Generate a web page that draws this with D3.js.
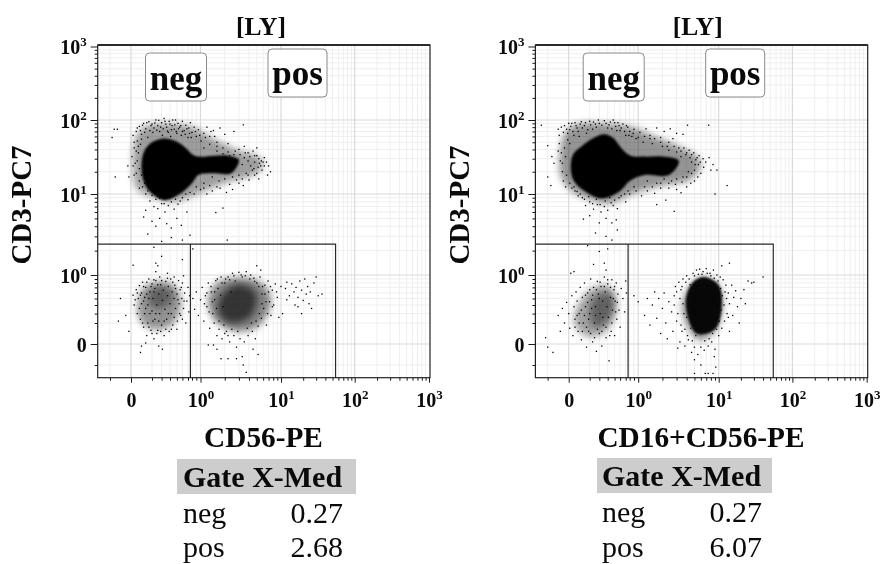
<!DOCTYPE html>
<html><head><meta charset="utf-8">
<script src="https://cdnjs.cloudflare.com/ajax/libs/d3/7.8.5/d3.min.js"></script>
<style>html,body{margin:0;background:#fff}svg{display:block;filter:blur(.35px)}text{font-family:"Liberation Serif",serif;fill:#0a0a0a}</style>
</head><body><svg id="c" width="881" height="564"><defs>
<filter id="soft" x="-30%" y="-30%" width="160%" height="160%"><feGaussianBlur stdDeviation="3.5"/></filter>
<filter id="edge" x="-20%" y="-20%" width="140%" height="140%"><feGaussianBlur stdDeviation="1.3"/></filter>
</defs></svg>
<script>
// Axis definitions
const majorX=[0,1,10,100,1000], majorY=[0,1,10,100,1000];
const minorLow=[-0.2,0.2,0.3,0.4,0.5,0.6,0.7,0.8,0.9];
const minorHigh=[2,3,4,5,6,7,8,9,20,30,40,50,60,70,80,90,200,300,400,500,600,700,800,900];
const gate={split:0.76,right:55,top:2.4};
const titles=["[LY]","[LY]"], xLabels=["CD56-PE","CD16+CD56-PE"], yLabel="CD3-PC7";
const gateNames=["neg","pos"];
const medians=[["0.27","2.68"],["0.27","6.07"]];

// Dense regions outlined from the picture (x value, y value)
const coreUpperA=[[.1,25],[.13,39],[.2,50],[.31,56],[.48,52],[.66,42],[.82,34],[.95,32],[1.5,33],[2.2,33],[3,29],[2.4,19],[1.5,19],[.95,18],[.8,14],[.55,10],[.33,8.4],[.18,10.7],[.12,15]];
const midUpperA=[[.02,21],[.04,55],[.12,80],[.33,88],[.8,80],[1.5,55],[3.1,38],[5.5,31],[6,25],[5,19],[2,14],[.9,10],[.45,8],[.18,9.4],[.05,12]];
const midLowLeftA=[[.07,.5],[.11,.68],[.22,.82],[.4,.8],[.55,.6],[.55,.32],[.4,.17],[.2,.14],[.08,.24]];
const coreLowLeftA=[[.17,.58],[.27,.72],[.4,.66],[.42,.45],[.27,.36],[.18,.42]];
const midLowRightA=[[1.25,.5],[1.6,.8],[3,.93],[5.2,.85],[7.2,.6],[7.2,.35],[5,.16],[2.7,.12],[1.45,.24]];
const coreLowRightA=[[1.75,.5],[2.6,.75],[4.1,.7],[5,.55],[4.2,.27],[2.3,.2],[1.7,.3]];
const coreUpperB=[[.02,22],[.04,34],[.12,44],[.25,58],[.36,64],[.48,57],[.62,42],[.82,33],[1.2,32],[2,32],[3.2,28],[2.4,18],[1.2,18],[.8,15],[.6,11],[.33,8.8],[.15,11],[.05,15]];
const midUpperB=[[-.08,18],[-.05,60],[.05,85],[.35,90],[.85,80],[1.6,60],[3.2,44],[5.6,31],[6,24],[4.6,16],[2,13],[.85,10],[.42,7.6],[.12,9.4],[0,12]];
const midLowLeftB=[[.05,.27],[.12,.48],[.22,.68],[.4,.75],[.5,.6],[.5,.27],[.35,.1],[.18,.07],[.08,.14]];
const coreLowLeftB=[[.2,.3],[.25,.52],[.42,.6],[.5,.42],[.4,.22],[.25,.16]];
const midLowRightB=[[3.5,.4],[4.2,.68],[5.7,.92],[9,.84],[11,.6],[11,.3],[8.5,.1],[5.5,.04],[4,.18]];
const coreLowRightB=[[3.9,.42],[4.6,.78],[6.5,.95],[10,.75],[11,.38],[9,.14],[5.3,.1]];

// Individual events [x,y]
const upperA=[[.05,70],[.08,82],[.1,64],[.12,90],[.14,76],[.16,58],[.17,95],[.19,84],[.21,68],[.23,91],[.25,73],[.27,99],[.29,80],[.31,62],[.33,105],[.35,88],[.37,71],[.39,96],[.41,60],[.43,84],[.46,75],[.48,100],[.5,66],[.52,90],[.55,80],[.58,62],[.6,96],[.63,72],[.66,85],[.7,58],[.72,78],[.76,92],[.8,68],[.85,80],[.9,60],[.95,74],[1.02,52],[1.1,66],[1.2,80],[1.3,60],[1.45,72],[1.6,50],[1.75,78],[2,64],[2.2,48],[2.6,70],[3.4,86],[-.16,75],[-.13,75],[-.18,58],[.02,62],[.06,52],[.09,47],[.03,42],[.07,36],[.01,32],[.04,26],[-.03,24],[.05,19],[.08,15],[-.02,17],[-.15,17],[.11,12.5],[.14,10],[.18,8.2],[.22,7],[.26,6.6],[.3,7.6],[.34,6],[.38,7.2],[.42,8],[.46,6.5],[.52,7.5],[.6,9],[.7,8.5],[.85,10],[1,11.5],[1.2,10],[1.4,11],[1.75,12],[2.1,10.5],[2.5,11.5],[3,14],[3.4,13],[4,15.5],[4.7,18],[5.3,16],[5.8,21],[6.2,24],[6.6,27],[6.2,31],[5.7,28],[7,24],[7.4,20],[6.8,18],[5,33],[4.5,38],[3.9,36],[5,42],[3.5,44],[3,40],[2.6,34],[2.2,37],[1.9,42],[1.6,38],[4.2,24],[4.7,27],[5.2,23],[4.4,21],[3.7,19],[3.3,25],[3.9,28],[3.5,31],[5.4,26],[3,18],[2.5,17],[2,16],[1.7,15],[1.4,17],[1.1,14],[.2,4.6],[.24,4],[.28,5],[.14,6.3],[.12,5.2],[.16,3.2],[.36,4.3],[.42,3.8],[.5,5],[.58,4.1],[.68,6],[.3,2.6],[.22,2.2],[.42,2.9],[.6,2.7],[.75,3.1],[1.55,5.9],[1.9,6.7],[.82,2.1],[2.15,2.7],[.3,1.7],[.24,1.4],[.6,1.55]];
const moreUpperA=[[.06,78],[.09,72],[.11,85],[.13,68],[.15,92],[.18,72],[.2,88],[.22,78],[.24,100],[.26,84],[.28,70],[.3,92],[.32,76],[.34,96],[.36,80],[.38,68],[.4,88],[.42,74],[.44,100],[.47,86],[.49,70],[.53,76],[.57,84],[.6,70],[.65,64],[.68,76],[.74,66],[.78,58],[.88,70],[.98,62],[1.15,58],[1.35,70],[1.5,60],[.03,50],[.05,38],[.02,24],[.06,28],[.08,22],[.03,18],[.07,44],[.1,55],[.08,12],[.1,18],[.13,14],[.16,11],[.2,9.6],[.24,8.6],[.28,8.9],[.33,7.6],[.4,9.2],[.48,8.6],[.56,8.2],[.66,10],[.75,10.5],[.9,12.5],[1.1,12],[1.3,13],[1.6,12.5],[2.3,13.5],[2.8,15.5],[3.3,16],[3.9,18],[4.6,22],[5,19],[5.6,24],[6,27],[5.3,30],[4.7,33],[4.1,32],[3.6,36],[3.1,34],[2.7,38],[2.3,33],[1.9,35],[1.6,44],[1.3,47],[1.1,42]];
const lowLeftA=[[.02,.56],[.03,.4],[.05,.66],[.06,.3],[.07,.5],[.08,.74],[.09,.24],[.1,.42],[.1,.6],[.11,.82],[.12,.16],[.13,.3],[.13,.52],[.14,.7],[.15,.08],[.16,.2],[.16,.4],[.17,.9],[.18,.62],[.19,.13],[.2,.33],[.2,.78],[.21,.5],[.22,.05],[.23,.24],[.23,.68],[.24,.86],[.25,.4],[.26,.13],[.27,.58],[.28,.3],[.28,.95],[.29,.76],[.3,.18],[.31,.47],[.32,.65],[.33,.08],[.34,.35],[.35,.84],[.36,.24],[.37,.55],[.38,.72],[.39,.12],[.4,.42],[.41,.9],[.42,.3],[.43,.62],[.44,.18],[.46,.5],[.47,.75],[.48,.36],[.5,.58],[.51,.22],[.53,.86],[.54,.42],[.56,.66],[.57,.28],[.59,.5],[.6,.8],[.62,.36],[.64,.6],[.66,.2],[.68,.46],[.7,.7],[.72,.32],[.74,.55],[-.1,.5],[-.12,.22],[-.05,.28],[-.02,.12],[.09,-.08],[.1,-.02],[.14,.01],[.27,-.02],[.31,-.05],[.24,1.1],[.26,1.3],[.02,1.32],[.37,1.05],[.46,.95],[.62,.98]];
const moreLowLeftA=[[.04,.48],[.06,.6],[.08,.36],[.09,.56],[.11,.2],[.12,.46],[.12,.72],[.14,.36],[.15,.58],[.15,.82],[.17,.16],[.17,.5],[.18,.3],[.19,.72],[.2,.1],[.21,.22],[.22,.62],[.22,.88],[.24,.3],[.25,.1],[.26,.76],[.27,.22],[.29,.12],[.3,.86],[.33,.22],[.35,.14],[.37,.92],[.38,.3],[.42,.14],[.44,.82],[.46,.26],[.48,.68],[.5,.14],[.52,.48],[.55,.3],[.58,.7],[.6,.24],[.63,.46]];
const lowRightA=[[.82,.5],[.86,.35],[.9,.62],[.95,.28],[1,.48],[1.05,.7],[1.1,.22],[1.15,.55],[1.2,.38],[1.25,.8],[1.3,.15],[1.36,.62],[1.42,.3],[1.5,.48],[1.55,.86],[1.6,.08],[1.65,.68],[1.7,.22],[1.8,.95],[1.85,.05],[1.9,.38],[2,.8],[2.1,.12],[2.2,.95],[2.3,.02],[2.4,.62],[2.5,1.05],[2.6,.08],[2.7,.85],[2.8,-.03],[3,1.08],[3.1,.05],[3.3,.95],[3.5,.02],[3.7,1.1],[3.9,.08],[4.2,1],[4.4,.12],[4.6,.92],[4.8,.05],[5,.8],[5.2,.17],[5.5,.95],[5.7,.25],[5.9,.72],[6.1,.36],[6.3,.58],[6.6,.18],[6.9,.85],[7.2,.45],[7.5,.28],[7.8,.65],[8.1,.4],[8.5,.78],[9,.52],[5,1.3],[5.6,1.15],[4.5,-.05],[3.4,-.2],[3.7,-.27],[3.3,-.12],[2.2,-.14],[2.8,-.14],[5.2,-.1],[1.8,-.14],[1.6,-.05],[1.45,-.01],[1.25,-.01],[9.4,.26],[10.5,.3]];
const moreLowRightA=[[1.12,.42],[1.2,.6],[1.28,.32],[1.35,.72],[1.4,.45],[1.48,.2],[1.5,.62],[1.58,.36],[1.62,.9],[1.7,.14],[1.78,.56],[1.85,.8],[1.95,.18],[2,.1],[2.05,.9],[2.2,.08],[2.3,.88],[2.45,.14],[2.6,.98],[2.9,.12],[3.2,1],[3.6,.98],[3.8,.15],[4.1,.9],[4.3,.2],[4.7,.84],[4.9,.22],[5.3,.72],[5.4,.3],[5.8,.58],[5.8,.42],[6.3,.75],[6.5,.45],[6.8,.3],[7,.62],[7.4,.72],[7.8,.38],[8.8,.62]];
const rightFringeA=[[10,.72],[11.5,.68],[12,.82],[13,.55],[14,.78],[15,.62],[15.5,.4],[16,.7],[17,.52],[18,.85],[19,.65],[20,.47],[21,.9],[22,.58],[23,.72],[24,.42],[25,.62],[26,.36],[28,.8],[30,.95],[32,.55],[36,.58],[12,.48],[17,.38],[19,.3]];
const upperB=[[-.26,85],[-.1,75],[-.09,62],[-.07,80],[-.05,68],[-.02,75],[0,90],[.02,82],[.04,70],[.06,92],[.08,78],[.1,60],[.12,95],[.15,84],[.17,66],[.2,96],[.23,75],[.26,88],[.29,100],[.33,85],[.36,98],[.4,78],[.44,94],[.48,100],[.52,82],[.56,92],[.6,72],[.65,88],[.7,62],[.75,80],[.8,70],[.85,60],[.9,75],[.95,56],[1.05,68],[1.15,50],[1.25,76],[1.4,62],[1.5,48],[1.7,78],[1.9,58],[2.1,70],[2.3,44],[2.5,76],[2.7,56],[3,66],[3.2,42],[3.6,64],[4.1,85],[-.2,45],[-.16,32],[-.14,26],[-.2,17],[-.17,13],[-.1,38],[-.08,28],[-.06,20],[-.05,15],[-.03,12.5],[.01,48],[.03,12],[.06,11],[.09,9.5],[.13,9],[.16,7.2],[.2,8],[.24,6.5],[.28,7.4],[.32,6],[.36,7],[.4,6.3],[.45,7.8],[.5,8.4],[.55,6.6],[.62,9.5],[.7,8],[.8,10],[.95,11],[1.1,9.5],[1.3,11],[1.6,10.2],[1.9,12],[2.2,8.4],[2.4,12],[3,11.5],[3.4,10.4],[4,12.5],[4.5,14],[5,15],[5.5,17],[6,19],[6.5,23],[6.9,27],[6.4,30],[5.7,33],[4.9,36],[4.3,39],[3.7,42],[3,37],[2.4,39],[2,44],[5.2,29],[4.6,27],[5.6,25],[5,21],[4.2,20],[3.6,17],[3,16],[2.6,15],[2.1,16],[1.7,14],[1.3,15],[3.4,32],[3.9,34],[4.4,31],[8,21],[8.5,25],[9.5,21],[7.6,31],[7.5,85],[13,13],[9,10],[.14,4.9],[.2,5.4],[.3,4.4],[.38,5],[.46,4.4],[.53,4.8],[.26,3.3],[.38,3],[.46,2.7],[.55,3.6],[.18,2.3],[.4,2.1],[2.8,6.1],[1.7,7.4]];
const moreUpperB=[[-.04,84],[-.01,66],[.01,74],[.03,90],[.05,62],[.07,84],[.09,70],[.11,88],[.13,78],[.16,92],[.18,74],[.21,86],[.24,94],[.27,80],[.3,90],[.38,90],[.42,86],[.46,76],[.5,92],[.54,72],[.58,84],[.62,78],[.68,70],[.72,84],[.78,62],[.88,66],[1,58],[1.2,60],[1.6,56],[-.09,48],[-.07,36],[-.06,26],[-.04,42],[-.03,32],[-.02,18],[-.01,54],[.01,14],[.05,12.5],[.08,10.8],[.11,10],[.15,8.6],[.19,9.3],[.23,7.6],[.27,8.6],[.31,7.4],[.37,8.2],[.43,9],[.48,7.2],[.58,9],[.68,10],[.76,11],[.9,12.5],[1.2,12.5],[1.5,12.5],[1.9,14],[2.4,14],[2.9,13.5],[3.5,14.5],[4,17],[4.6,19],[5.1,25],[5.9,27],[5.4,31],[4.6,34],[4,36],[3.4,38],[2.8,44],[2.4,50],[1.9,50],[1.4,56]];
const lowLeftB=[[-.22,.06],[-.2,-.03],[-.15,-.08],[-.1,.28],[-.08,.12],[-.06,.36],[-.04,.2],[-.02,.44],[0,.3],[.01,.15],[.03,.55],[.04,.08],[.05,.38],[.06,.24],[.07,.62],[.08,.46],[.09,.12],[.1,.3],[.11,.7],[.12,.04],[.13,.52],[.14,.2],[.15,.8],[.16,.38],[.17,-.03],[.18,.6],[.19,.12],[.2,.3],[.21,.9],[.22,.48],[.23,.02],[.24,.7],[.25,.2],[.26,.38],[.27,-.07],[.28,.84],[.29,.58],[.3,.1],[.31,.3],[.32,.72],[.33,-.02],[.34,.46],[.35,.18],[.36,.95],[.37,.62],[.38,.06],[.39,.38],[.4,.78],[.41,.26],[.42,-.16],[.44,.52],[.45,.12],[.46,.88],[.47,.34],[.49,.66],[.5,.08],[.51,.46],[.53,.8],[.54,.24],[.56,.58],[.58,.34],[.6,.16],[.62,.68],[.65,.5],[.68,.32],[.7,.85],[.72,.6],[.05,1.1],[.24,1.35],[.36,1.4],[.02,1.05],[.3,1.95],[.38,1.15]];
const moreLowLeftB=[[.06,.16],[.08,.28],[.1,.2],[.12,.34],[.13,.12],[.15,.28],[.16,.56],[.17,.16],[.18,.44],[.19,.24],[.2,.66],[.21,.1],[.22,.36],[.23,.56],[.25,.06],[.26,.28],[.27,.66],[.28,.14],[.3,.5],[.31,.82],[.33,.12],[.34,.26],[.36,.72],[.38,.16],[.4,.88],[.43,.08],[.44,.7],[.46,.2],[.48,.5],[.5,.72],[.52,.32],[.55,.44]];
const lowRightB=[[.9,.55],[1,.45],[1.2,.28],[1.3,.5],[1.4,.18],[1.5,.4],[1.6,.62],[1.7,.25],[1.8,.5],[1.9,.1],[2,.36],[2.1,.6],[2.2,.2],[2.3,.05],[2.4,.45],[2.6,.32],[2.7,.12],[2.8,.55],[2.9,.72],[3,.22],[3.1,-.04],[3.2,.82],[3.3,.02],[3.4,.66],[3.5,.12],[3.6,.9],[3.7,.3],[3.8,-.02],[4,.98],[4.2,.04],[4.4,.76],[4.6,-.08],[4.8,1.05],[5,-.03],[5.3,1.15],[5.5,-.1],[5.8,1.18],[6,-.03],[6.4,1.1],[6.6,-.06],[7,1.2],[7.4,-.02],[7.8,1.05],[8.2,.02],[8.6,1.15],[9,-.05],[9.5,1],[10,.08],[10.5,.95],[11,.15],[11.5,.88],[12,.22],[12.5,.75],[13,.3],[13.5,.6],[14,.42],[15,.75],[15.5,.28],[16,.52],[17,.64],[18,.38],[19,.2],[20,.5],[22,.66],[23,.42],[25,.85],[28,.8],[30,.82],[40,.95],[14,1.4],[6,-.2],[6.8,-.28],[7.4,-.28],[5,-.28],[8.5,-.28],[8.8,-.12],[5,-.15],[9.2,-.22],[14,.12],[11,1.3]];
const moreLowRightB=[[2.8,.4],[3,.62],[3.1,.3],[3.3,.5],[3.4,.18],[3.5,.72],[3.6,.42],[3.8,.14],[3.9,.82],[4,.26],[4.1,.08],[4.3,.9],[4.5,.15],[4.7,.03],[5,.98],[5.2,.08],[5.6,1.02],[6.2,1.02],[6.7,.03],[7.2,1.05],[7.6,.05],[8,.98],[8.4,.1],[8.8,.92],[9.4,.14],[9.8,.85],[10.2,.22],[10.6,.68],[10.8,.34],[11.2,.55],[11.8,.4],[12.2,.62],[12.8,.5],[13.5,.26]];

const svg=d3.select("#c");
function makeX(dx){
  const low=d3.scaleLinear().domain([-0.2,0,0.2,0.3,0.4,0.5,0.6,0.7,0.8,0.9,1]).range([110,131,152,161.6,170,176.9,182.4,188,192,196.3,200.5].map(d=>d+dx));
  const high=d3.scaleLog().domain([1,10,100,1000]).range([200.5,281,354.7,429].map(d=>d+dx));
  const f=v=>v<=1?low(v):high(v);
  f.copy=()=>f; f.range=()=>[97.7+dx,430+dx]; f.domain=()=>[-0.3,1000];
  return f;
}
function makeY(){
  const low=d3.scaleLinear().domain([-0.2,0,0.2,0.3,0.4,0.5,0.6,0.7,0.8,0.9,1]).range([365,344,323,313.6,305,298.5,293,287.4,283,279,275]);
  const high=d3.scaleLog().domain([1,10,100,1000]).range([275,194,120,46.5]);
  const f=v=>v<=1?low(v):high(v);
  f.copy=()=>f; f.range=()=>[377.7,45]; f.domain=()=>[-0.3,1000];
  return f;
}
const allMinor=minorLow.concat(minorHigh);
function supLabel(sel,v){
  if(v===0){sel.text("0");return;}
  sel.append("tspan").text("10");
  sel.append("tspan").attr("font-size",13).attr("dy",-8).text(Math.round(Math.log10(v)));
}
function panel(i,dx,polys,dots,boxes){
  const x=makeX(dx), y=makeY();
  const L=97.7+dx,R=430+dx,T=45,B=377.7;
  const g=svg.append("g");
  // grid
  g.append("g").selectAll("line").data(allMinor).join("line").attr("x1",d=>x(d)).attr("x2",d=>x(d)).attr("y1",T).attr("y2",B).attr("stroke","#efefef").attr("stroke-width",1);
  g.append("g").selectAll("line").data(allMinor).join("line").attr("y1",d=>y(d)).attr("y2",d=>y(d)).attr("x1",L).attr("x2",R).attr("stroke","#efefef").attr("stroke-width",1);
  g.append("g").selectAll("line").data(majorX.slice(0,4)).join("line").attr("x1",d=>x(d)).attr("x2",d=>x(d)).attr("y1",T).attr("y2",B).attr("stroke","#dadada").attr("stroke-width",1.2);
  g.append("g").selectAll("line").data(majorY.slice(0,4)).join("line").attr("y1",d=>y(d)).attr("y2",d=>y(d)).attr("x1",L).attr("x2",R).attr("stroke","#dadada").attr("stroke-width",1.2);
  // density regions
  const line=d3.line().x(d=>x(d[0])).y(d=>y(d[1])).curve(d3.curveCatmullRomClosed);
  g.append("g").selectAll("path").data(polys).join("path").attr("d",d=>line(d.pts)).attr("fill","#000").attr("fill-opacity",d=>d.o).attr("filter",d=>d.o<.9?"url(#soft)":"url(#edge)");
  // events
  g.append("g").selectAll("rect").data(dots).join("rect").attr("x",d=>x(d[0])-.65).attr("y",d=>y(d[1])-.65).attr("width",1.3).attr("height",1.3).attr("fill","#000");
  // gates
  g.append("path").attr("d",`M${L},${y(gate.top)}H${x(gate.right)}V${B}M${x(gate.split)},${y(gate.top)}V${B}`).attr("fill","none").attr("stroke","#2a2a2a").attr("stroke-width",1.2);
  // frame
  g.append("rect").attr("x",L).attr("y",T).attr("width",R-L).attr("height",B-T).attr("fill","none").attr("stroke","#222").attr("stroke-width",1.2);
  g.append("line").attr("x1",L).attr("x2",R).attr("y1",T).attr("y2",T).attr("stroke","#111").attr("stroke-width",1.6);
  // axes
  const ax=g.append("g").attr("transform",`translate(0,${B})`);
  ax.append("g").call(d3.axisBottom(x).tickValues(allMinor).tickSize(3).tickFormat("")).call(s=>s.select(".domain").remove());
  const xm=ax.append("g").call(d3.axisBottom(x).tickValues(majorX).tickSize(5).tickFormat("")).call(s=>s.select(".domain").remove());
  xm.selectAll(".tick text").attr("font-size",20).attr("font-weight","bold").attr("y",0).attr("dy",29.5).attr("text-anchor","middle").each(function(d){supLabel(d3.select(this),d)});
  const ay=g.append("g").attr("transform",`translate(${L},0)`);
  ay.append("g").call(d3.axisLeft(y).tickValues(allMinor).tickSize(3).tickFormat("")).call(s=>s.select(".domain").remove());
  const ym=ay.append("g").call(d3.axisLeft(y).tickValues(majorY).tickSize(7).tickFormat("")).call(s=>s.select(".domain").remove());
  ym.selectAll(".tick text").attr("font-size",20).attr("font-weight","bold").attr("x",-11).attr("dy",7).attr("text-anchor","end").each(function(d){supLabel(d3.select(this),d)});
  g.selectAll(".tick line").attr("stroke","#1a1a1a");
  // labels
  g.append("text").attr("x",261+dx-(i?1:0)).attr("y",35).attr("text-anchor","middle").attr("font-size",25.5).attr("font-weight","bold").text(titles[i]);
  g.append("text").attr("x",(i?263.3:263.5)+dx).attr("y",447).attr("text-anchor","middle").attr("font-size",29.3).attr("font-weight","bold").text(xLabels[i]);
  g.append("text").attr("transform",`translate(${31+dx},205) rotate(-90)`).attr("text-anchor","middle").attr("font-size",29).attr("font-weight","bold").text(yLabel);
  // gate name boxes
  boxes.forEach(b=>{
    g.append("rect").attr("x",b.x+dx).attr("y",b.y).attr("width",b.w).attr("height",48).attr("rx",4).attr("fill","#fff").attr("stroke","#8a8a8a").attr("stroke-width",1);
    g.append("text").attr("x",b.x+dx+b.w/2).attr("y",b.base).attr("text-anchor","middle").attr("font-size",35).attr("font-weight","bold").text(b.t);
  });
}
const boxes=[{t:gateNames[0],x:145.5,y:53,w:61,base:90},{t:gateNames[1],x:268,y:49,w:59,base:85}];
panel(0,0,[{pts:midUpperA,o:.38},{pts:midLowLeftA,o:.42},{pts:midLowRightA,o:.48},{pts:coreUpperA,o:1},{pts:coreLowLeftA,o:.35},{pts:coreLowRightA,o:.6}],upperA.concat(moreUpperA,lowLeftA,moreLowLeftA,lowRightA,moreLowRightA,rightFringeA),boxes);
panel(1,437.7,[{pts:midUpperB,o:.42},{pts:midLowLeftB,o:.36},{pts:midLowRightB,o:.45},{pts:coreUpperB,o:1},{pts:coreLowLeftB,o:.4},{pts:coreLowRightB,o:.95}],upperB.concat(moreUpperB,lowLeftB,moreLowLeftB,lowRightB,moreLowRightB),boxes);

// Median tables
const tables=[{x:177,w:179,y:459,tx:183,tr:343,bases:[487,523,557]},{x:597,w:175,y:458,tx:602,tr:762,bases:[486,522,557]}];
tables.forEach((t,i)=>{
  svg.append("rect").attr("x",t.x).attr("y",t.y).attr("width",t.w).attr("height",35).attr("fill","#cdcdcd");
  svg.append("text").attr("x",t.tx).attr("y",t.bases[0]).attr("font-size",30).attr("font-weight","bold").text("Gate X-Med");
  gateNames.forEach((n,k)=>{
    svg.append("text").attr("x",t.tx).attr("y",t.bases[k+1]).attr("font-size",30).text(n);
    svg.append("text").attr("x",t.tr).attr("y",t.bases[k+1]).attr("text-anchor","end").attr("font-size",30).text(medians[i][k]);
  });
});
</script></body></html>
